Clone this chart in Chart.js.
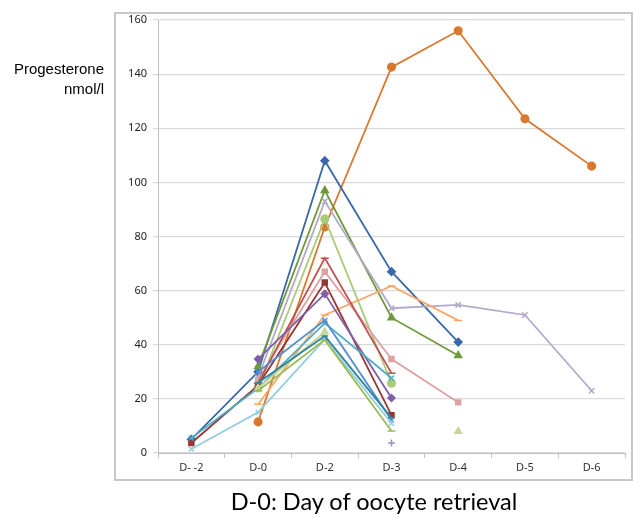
<!DOCTYPE html>
<html>
<head>
<meta charset="utf-8">
<script src="https://cdn.jsdelivr.net/npm/chart.js@4"></script>
<style>
  html, body { margin: 0; padding: 0; background: #fff; }
  #wrap { position: relative; width: 633px; height: 517px; overflow: hidden; }
  #frame { position: absolute; left: 114px; top: 12px; width: 515px; height: 465px; border: 2px solid #c8c8c8; }
  #c { position: absolute; left: 0; top: 0; }
  #ytitle { position: absolute; left: 0; top: 59px; width: 104px; text-align: right;
            font-family: "Liberation Sans", Arial, sans-serif; font-size: 15px; line-height: 20px; color: #000; }
  #caption { position: absolute; left: 0; width: 748px; top: 487px; text-align: center;
             font-family: Lato, "Open Sans", sans-serif; font-size: 23.5px; color: #000; }
</style>
</head>
<body>
<div id="wrap">
  <div id="frame"></div>
  <canvas id="c" width="633" height="517"></canvas>
  <div id="ytitle">Progesterone<br>nmol/l</div>
  <div id="caption">D-0: Day of oocyte retrieval</div>
</div>
<script>
const categories = ['D- -2', 'D-0', 'D-2', 'D-3', 'D-4', 'D-5', 'D-6'];
const yTicks = [0, 20, 40, 60, 80, 100, 120, 140, 160];

const sDarkBlue   = [5, 30, 108, 67, 41, null, null];
const sDarkRed    = [3.7, 25, 63, 14, null, null, null];
const sGreen      = [null, 32, 97, 50, 36, null, null];
const sLavender   = [null, 28, 93, 53.5, 54.7, 51, 23];
const sAqua       = [5.5, 24, 48, 27.7, null, null, null];
const sOrange     = [null, 11.5, 83.5, 142.6, 156, 123.5, 106];
const sLightOrange= [null, 18, 51, 61.7, 49, null, null];
const sPink       = [null, 27, 67, 34.7, 18.7, null, null];
const sLightGreen = [null, 24, 86.5, 25.8, null, null, null];
const sRed        = [null, 25.8, 72, 29.5, null, null, null];
const sPurple     = [null, 34.7, 58.8, 20.3, null, null, null];
const sBlue       = [null, 30, 49, 12.2, null, null, null];
const sLightBlue  = [1.5, 15, 42, 11, null, null, null];
const sGreenDash  = [null, 23, 41.8, 8.1, null, null, null];
const sPaleGreen  = [null, 24, 44.7, null, 8, null, null];
const sPurplePlus = [null, null, null, 3.7, null, null, null];
const sTeal       = [null, 26, 43.2, 13, null, null, null];

function ds(data, color, style, r) {
  return {
    data: data, borderColor: color, backgroundColor: color,
    borderWidth: 1.8, pointStyle: style, pointRadius: r || 3.2,
    pointBorderWidth: 1.5, pointHoverRadius: 3, spanGaps: false, tension: 0
  };
}

const datasets = [
  ds(sTeal, '#31859C', 'line'),
  ds(sGreenDash, '#9BBB59', 'line', 4),
  ds(sLightBlue, '#93CDDD', 'crossRot', 3.5),
  ds(sBlue, '#558ED5', 'crossRot', 3.5),
  ds(sPaleGreen, '#C3D69B', 'triangle', 3.8),
  ds(sAqua, '#4BACC6', 'crossRot', 3.5),
  ds(sPurple, '#7F5FA8', 'rectRot', 3.5),
  ds(sRed, '#C0504D', 'line', 4),
  ds(sDarkRed, '#953735', 'rect', 3.5),
  ds(sPink, '#DCA3A2', 'rect', 3.5),
  ds(sLightOrange, '#F9A86A', 'line', 4),
  ds(sLightGreen, '#A9CB7A', 'circle', 3.8),
  ds(sLavender, '#B3A9CC', 'crossRot', 3.8),
  ds(sGreen, '#6E9A3B', 'triangle', 4),
  ds(sDarkBlue, '#3A68A8', 'rectRot', 3.8),
  ds(sOrange, '#D9782E', 'circle', 3.8),
  ds(sPurplePlus, '#9B8DBF', 'cross', 3.5)
];

new Chart(document.getElementById('c'), {
  type: 'line',
  data: { labels: categories, datasets: datasets },
  options: {
    responsive: false,
    animation: false,
    layout: { padding: { left: 114, right: 8, top: 20, bottom: 44 } },
    plugins: { legend: { display: false }, tooltip: { enabled: false } },
    scales: {
      x: {
        type: 'category',
        offset: true,
        grid: { offset: true, drawOnChartArea: false, drawTicks: true, tickLength: 5, color: '#bfbfbf' },
        border: { display: true, color: '#bfbfbf', width: 1 },
        ticks: { color: '#333', font: { family: 'Noto Sans', size: 11 }, padding: 3, maxRotation: 0 },
        afterFit: s => { s.height = 20; }
      },
      y: {
        min: 0, max: 160,
        afterBuildTicks: s => { s.ticks = yTicks.map(v => ({ value: v })); },
        grid: { color: '#d9d9d9', lineWidth: 1.2, tickLength: 5, drawTicks: true },
        border: { display: true, color: '#bfbfbf', width: 1 },
        ticks: { color: '#222', font: { family: 'Noto Sans', size: 11 }, padding: 6 },
        afterFit: s => { s.width = 44; }
      }
    }
  }
});
</script>
</body>
</html>
